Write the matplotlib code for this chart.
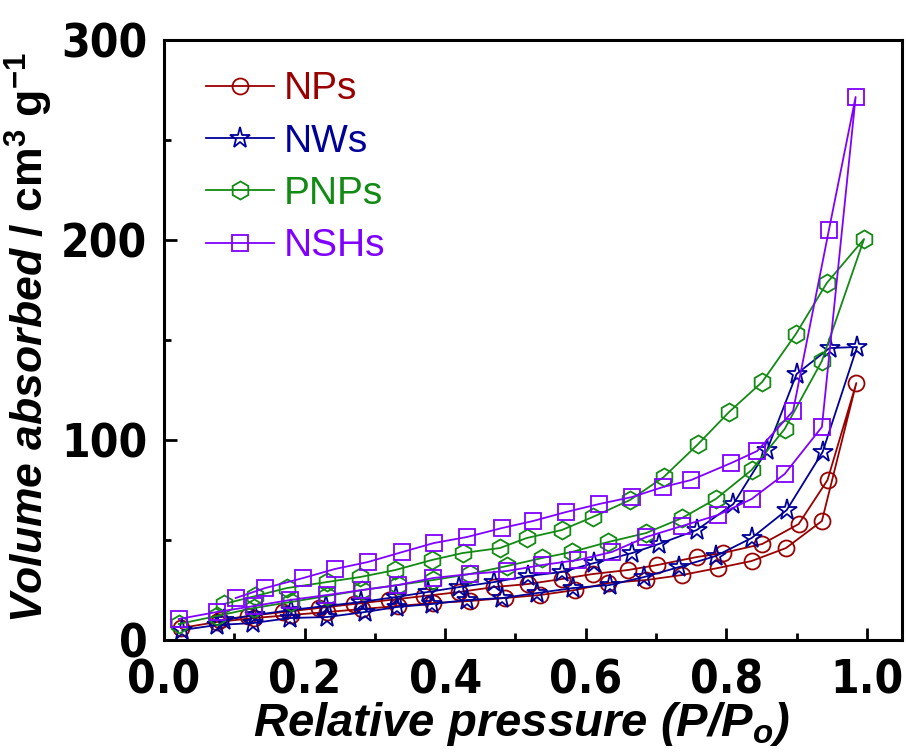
import matplotlib.pyplot as plt
from matplotlib.ticker import MultipleLocator
from matplotlib import font_manager

# a narrow bold face for the tick labels (narrow Liberation, else condensed DejaVu)
tick_font = None
tick_size = 33
for key, size in [('LiberationSansNarrow-Bold.', 38), ('DejaVuSansCondensed-Bold.', 33)]:
    for f in font_manager.fontManager.ttflist:
        if key in f.fname:
            tick_font = f.fname
            tick_size = size
            break
    if tick_font:
        break
if tick_font:
    tick_prop = font_manager.FontProperties(fname=tick_font, size=tick_size)
else:
    tick_prop = font_manager.FontProperties(family='Liberation Sans', weight='bold', size=33)

plt.rcParams['font.family'] = 'Liberation Sans'
plt.rcParams['mathtext.fontset'] = 'custom'
plt.rcParams['mathtext.rm'] = 'Liberation Sans:bold'
plt.rcParams['mathtext.bf'] = 'Liberation Sans:bold'
plt.rcParams['mathtext.it'] = 'Liberation Sans:bold:italic'

# NPs (adsorption up to the top point, then desorption back down)
nps_ads_x = [0.024, 0.075, 0.128, 0.18, 0.232, 0.282, 0.333, 0.383, 0.435, 0.485,
             0.535, 0.585, 0.632, 0.686, 0.737, 0.788, 0.836, 0.885, 0.936, 0.985]
nps_ads_y = [6, 9, 11, 12.5, 14, 15.5, 17, 18.5, 19.5, 21,
             22.5, 25, 28.5, 30, 32.5, 36, 39.5, 46, 59.5, 128.5]
nps_des_x = [0.944, 0.903, 0.851, 0.795, 0.758, 0.702, 0.66, 0.61, 0.566, 0.518,
             0.47, 0.42, 0.37, 0.32, 0.27, 0.22, 0.17, 0.12, 0.08]
nps_des_y = [80, 58, 48, 43.5, 41.5, 37.5, 35, 33, 30.5, 28,
             26.5, 24, 22, 20, 18, 16, 14, 12, 10]

# NWs
nws_ads_x = [0.026, 0.075, 0.127, 0.179, 0.232, 0.286, 0.331, 0.381, 0.431, 0.481,
             0.531, 0.582, 0.634, 0.683, 0.733, 0.785, 0.836, 0.886, 0.937, 0.986]
nws_ads_y = [5, 7.5, 8.5, 11, 11.5, 14, 16.5, 18, 20, 21,
             23.5, 26, 27.5, 31.5, 36.5, 42, 51, 65, 94, 146.5]
nws_des_x = [0.947, 0.9, 0.858, 0.81, 0.758, 0.704, 0.666, 0.612, 0.566, 0.518,
             0.47, 0.42, 0.375, 0.33, 0.28, 0.23, 0.18, 0.13, 0.085]
nws_des_y = [146, 133, 95, 68, 55, 48, 43.5, 38.5, 34, 32,
             29, 26.5, 24, 21.5, 19, 17, 15, 12.5, 10]

# PNPs
pnps_ads_x = [0.021, 0.075, 0.128, 0.18, 0.232, 0.282, 0.333, 0.383, 0.435, 0.488,
              0.538, 0.58, 0.632, 0.686, 0.737, 0.785, 0.836, 0.883, 0.936, 0.996]
pnps_ads_y = [8, 12, 16, 19, 22, 25, 27.5, 30, 33, 37,
              41, 44, 49, 53.5, 61, 70.5, 85, 105.5, 139.5, 200.5]
pnps_des_x = [0.943, 0.899, 0.851, 0.804, 0.76, 0.711, 0.663, 0.61, 0.566, 0.516,
              0.478, 0.425, 0.381, 0.329, 0.279, 0.232, 0.175, 0.13, 0.085]
pnps_des_y = [178.5, 153, 129, 114, 98, 81.5, 70, 61.5, 55, 51,
              46, 43.5, 40, 35, 31.5, 29, 26, 22, 18]

# NSHs
nshs_ads_x = [0.021, 0.075, 0.128, 0.179, 0.232, 0.282, 0.333, 0.383, 0.435, 0.488,
              0.538, 0.589, 0.637, 0.686, 0.737, 0.788, 0.836, 0.883, 0.936, 0.984]
nshs_ads_y = [10.5, 14, 17, 20, 22.5, 25, 27.5, 31, 33, 34.5,
              37.5, 40, 44, 51.5, 57, 62.5, 70.5, 83, 106.5, 271.5]
nshs_des_x = [0.946, 0.895, 0.844, 0.807, 0.75, 0.71, 0.666, 0.619, 0.572, 0.525,
              0.481, 0.431, 0.384, 0.339, 0.29, 0.243, 0.198, 0.144, 0.102]
nshs_des_y = [205, 114.5, 94.5, 88.5, 80, 76.5, 71.5, 68, 64, 59.5,
              56, 51.5, 48.5, 44, 39, 35.5, 31, 26, 21]

series = [
    ('NPs', nps_ads_x + nps_des_x, nps_ads_y + nps_des_y, 'o', 11.5, '#990000'),
    ('NWs', nws_ads_x + nws_des_x, nws_ads_y + nws_des_y, '*', 15.5, '#000099'),
    ('PNPs', pnps_ads_x + pnps_des_x, pnps_ads_y + pnps_des_y, 'h', 13, '#138A13'),
    ('NSHs', nshs_ads_x + nshs_des_x, nshs_ads_y + nshs_des_y, 's', 11.5, '#8000FF'),
]

fig = plt.figure(figsize=(9.06, 7.56), dpi=100)
ax = fig.add_axes([0.181, 0.1534, 0.8146, 0.7937])

for name, x, y, m, ms, c in series:
    ax.plot(x, y, color=c, marker=m, markersize=ms, markerfacecolor='none',
            markeredgecolor=c, markeredgewidth=1.3, linewidth=1.3, label=name)

ax.set_xlim(0, 1.05)
ax.set_ylim(0, 300)
ax.xaxis.set_major_locator(MultipleLocator(0.2))
ax.xaxis.set_minor_locator(MultipleLocator(0.1))
ax.yaxis.set_major_locator(MultipleLocator(100))
ax.yaxis.set_minor_locator(MultipleLocator(50))
ax.xaxis.set_major_formatter(plt.FormatStrFormatter('%.1f'))
ax.tick_params(which='major', direction='in', length=9, width=2)
ax.tick_params(which='minor', direction='in', length=5, width=2)
ax.tick_params(axis='x', pad=13)
ax.tick_params(axis='y', pad=12)
for lab in ax.get_xticklabels() + ax.get_yticklabels():
    lab.set_fontproperties(tick_prop)
for s in ax.spines.values():
    s.set_linewidth(2.2)

ax.set_xlabel(r'Relative pressure (P/P$_\mathit{o}$)', fontsize=34, fontweight='bold',
              fontstyle='italic')
ax.xaxis.set_label_coords(0.485, -0.1)
ax.set_ylabel(r'$\mathit{Volume\ absorbed}$ / cm$^\mathbf{3}$ g$^\mathbf{-1}$', fontsize=32,
              fontweight='bold')
ax.yaxis.set_label_coords(-0.148, 0.505)

leg = ax.legend(loc='upper left', bbox_to_anchor=(0.03, 0.98), frameon=False,
                fontsize=28, handlelength=1.75, handletextpad=0.25, labelspacing=0.42,
                borderpad=0, labelcolor='linecolor', numpoints=1)

fig.savefig('out.png', dpi=100)
